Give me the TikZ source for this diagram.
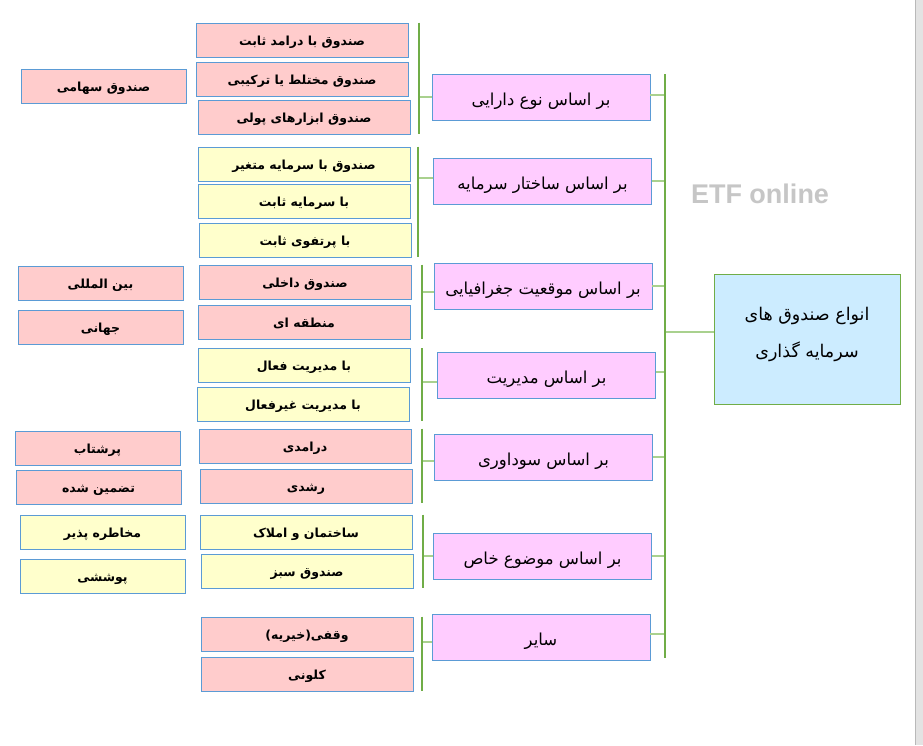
\documentclass[tikz,border=0pt]{standalone}
\usepackage{fontspec}
\setmainfont{Liberation Sans}
\newfontfamily\arabicfont[Script=Arabic]{DejaVu Sans}
\TeXXeTstate=1
\newcommand{\fa}[1]{\beginR #1\endR}
\definecolor{edgeblue}{HTML}{5B9BD5}
\definecolor{fillred}{HTML}{FFCCCC}
\definecolor{fillyel}{HTML}{FFFFCC}
\definecolor{fillpink}{HTML}{FFCCFF}
\definecolor{fillsky}{HTML}{CCECFF}
\definecolor{darkgreen}{HTML}{70AD47}
\definecolor{lightgreen}{HTML}{A9D18E}
\begin{document}
\begin{tikzpicture}[x=1pt,y=-1pt,
  kid/.style={draw=edgeblue,line width=0.8pt,minimum width=212pt,minimum height=34pt,inner sep=0pt,
    text height=12pt,text depth=2pt,font=\fontsize{12.5}{14}\selectfont\arabicfont\bfseries},
  redkid/.style={kid,fill=fillred},
  yelkid/.style={kid,fill=fillyel},
  farred/.style={redkid,minimum width=165pt},
  faryel/.style={yelkid,minimum width=165pt},
  cat/.style={draw=edgeblue,line width=0.8pt,fill=fillpink,minimum width=218pt,minimum height=46pt,inner sep=0pt,
    text height=17pt,text depth=1pt,font=\fontsize{16.5}{19}\selectfont\arabicfont},
  root/.style={draw=darkgreen,line width=0.8pt,fill=fillsky,minimum width=186pt,minimum height=130pt,inner sep=0pt,
    align=center,text height=42pt,text depth=5pt,font=\fontsize{17.5}{37}\selectfont\arabicfont},
  stem/.style={draw=darkgreen,line width=2pt},
  twig/.style={draw=lightgreen,line width=2pt}]
\useasboundingbox (0,0) rectangle (923,745);
\fill[white] (0,0) rectangle (923,745);
\fill[gray!22] (915,0) rectangle (923,745);
\draw[gray!55,line width=1pt] (915,0) -- (915,745);

% root and watermark
\node[root] (root) at (807,339) {\fa{انواع صندوق های}\\\fa{سرمایه گذاری}};
\node[text=gray!45,font=\fontsize{27}{30}\selectfont\bfseries] (etf) at (760,194) {ETF online};

% categories
\node[cat] (cat1) at (541,97) {\fa{بر اساس نوع دارایی}};
\node[cat] (cat2) at (542.5,181) {\fa{بر اساس ساختار سرمایه}};
\node[cat] (cat3) at (543,286) {\fa{بر اساس موقعیت جغرافیایی}};
\node[cat] (cat4) at (546.5,375) {\fa{بر اساس مدیریت}};
\node[cat] (cat5) at (543.5,457) {\fa{بر اساس سوداوری}};
\node[cat] (cat6) at (542.5,556) {\fa{بر اساس موضوع خاص}};
\node[cat] (cat7) at (541,637) {\fa{سایر}};

% subtypes
\node[redkid] (k11) at (302,40) {\fa{صندوق با درامد ثابت}};
\node[redkid] (k12) at (302,79) {\fa{صندوق مختلط یا ترکیبی}};
\node[redkid] (k13) at (304,117) {\fa{صندوق ابزارهای پولی}};
\node[farred] (f11) at (103.5,86) {\fa{صندوق سهامی}};

\node[yelkid] (k21) at (304,164) {\fa{صندوق با سرمایه متغیر}};
\node[yelkid] (k22) at (304,201) {\fa{با سرمایه ثابت}};
\node[yelkid] (k23) at (305,240) {\fa{با پرتفوی ثابت}};

\node[redkid] (k31) at (305,282) {\fa{صندوق داخلی}};
\node[redkid] (k32) at (304,322) {\fa{منطقه ای}};
\node[farred] (f31) at (100.5,283) {\fa{بین المللی}};
\node[farred] (f32) at (100.5,327) {\fa{جهانی}};

\node[yelkid] (k41) at (304,365.5) {\fa{با مدیریت فعال}};
\node[yelkid] (k42) at (303,404) {\fa{با مدیریت غیرفعال}};

\node[redkid] (k51) at (305,446) {\fa{درامدی}};
\node[redkid] (k52) at (306,486) {\fa{رشدی}};
\node[farred] (f51) at (97.5,448) {\fa{پرشتاب}};
\node[farred] (f52) at (98.5,487) {\fa{تضمین شده}};

\node[yelkid] (k61) at (306,532) {\fa{ساختمان و املاک}};
\node[yelkid] (k62) at (307,571) {\fa{صندوق سبز}};
\node[faryel] (f61) at (102.5,532) {\fa{مخاطره پذیر}};
\node[faryel] (f62) at (102.5,576) {\fa{پوششی}};

\node[redkid] (k71) at (307,634) {\fa{وقفی(خیریه)}};
\node[redkid] (k72) at (307,674) {\fa{کلونی}};

% trunk
\coordinate (trunktop) at (665,74);
\coordinate (trunkbot) at (665,658);
\draw[twig] ([yshift=7pt]root.west) -- ([yshift=7pt]root.west -| trunktop);
\draw[twig] ([yshift=2pt]cat1.east) -- ([yshift=2pt]cat1.east -| trunktop);
\draw[twig] (cat2.east) -- (cat2.east -| trunktop);
\draw[twig] (cat3.east) -- (cat3.east -| trunktop);
\draw[twig] ([yshift=3pt]cat4.east) -- ([yshift=3pt]cat4.east -| trunktop);
\draw[twig] (cat5.east) -- (cat5.east -| trunktop);
\draw[twig] (cat6.east) -- (cat6.east -| trunktop);
\draw[twig] ([yshift=3pt]cat7.east) -- ([yshift=3pt]cat7.east -| trunktop);
\draw[stem] (trunktop) -- (trunkbot);

% branches
\draw[twig] (cat1.west) -- ++(-13pt,0);
\draw[stem] ([xshift=-13pt]cat1.west |- k11.north) -- ([xshift=-13pt]cat1.west |- k13.south);
\draw[twig] ([yshift=3pt]cat2.west) -- ++(-15pt,0);
\draw[stem] ([xshift=-15pt]cat2.west |- k21.north) -- ([xshift=-15pt]cat2.west |- k23.south);
\draw[twig] ([yshift=-6pt]cat3.west) -- ++(-12pt,0);
\draw[stem] ([xshift=-12pt]cat3.west |- k31.north) -- ([xshift=-12pt]cat3.west |- k32.south);
\draw[twig] ([yshift=-7pt]cat4.west) -- ++(-15pt,0);
\draw[stem] ([xshift=-15pt]cat4.west |- k41.north) -- ([xshift=-15pt]cat4.west |- k42.south);
\draw[twig] ([yshift=-4pt]cat5.west) -- ++(-12pt,0);
\draw[stem] ([xshift=-12pt]cat5.west |- k51.north) -- ([xshift=-12pt]cat5.west |- k52.south);
\draw[twig] (cat6.west) -- ++(-10pt,0);
\draw[stem] ([xshift=-10pt]cat6.west |- k61.north) -- ([xshift=-10pt]cat6.west |- k62.south);
\draw[twig] ([yshift=-5pt]cat7.west) -- ++(-10pt,0);
\draw[stem] ([xshift=-10pt]cat7.west |- k71.north) -- ([xshift=-10pt]cat7.west |- k72.south);
\end{tikzpicture}
\end{document}
